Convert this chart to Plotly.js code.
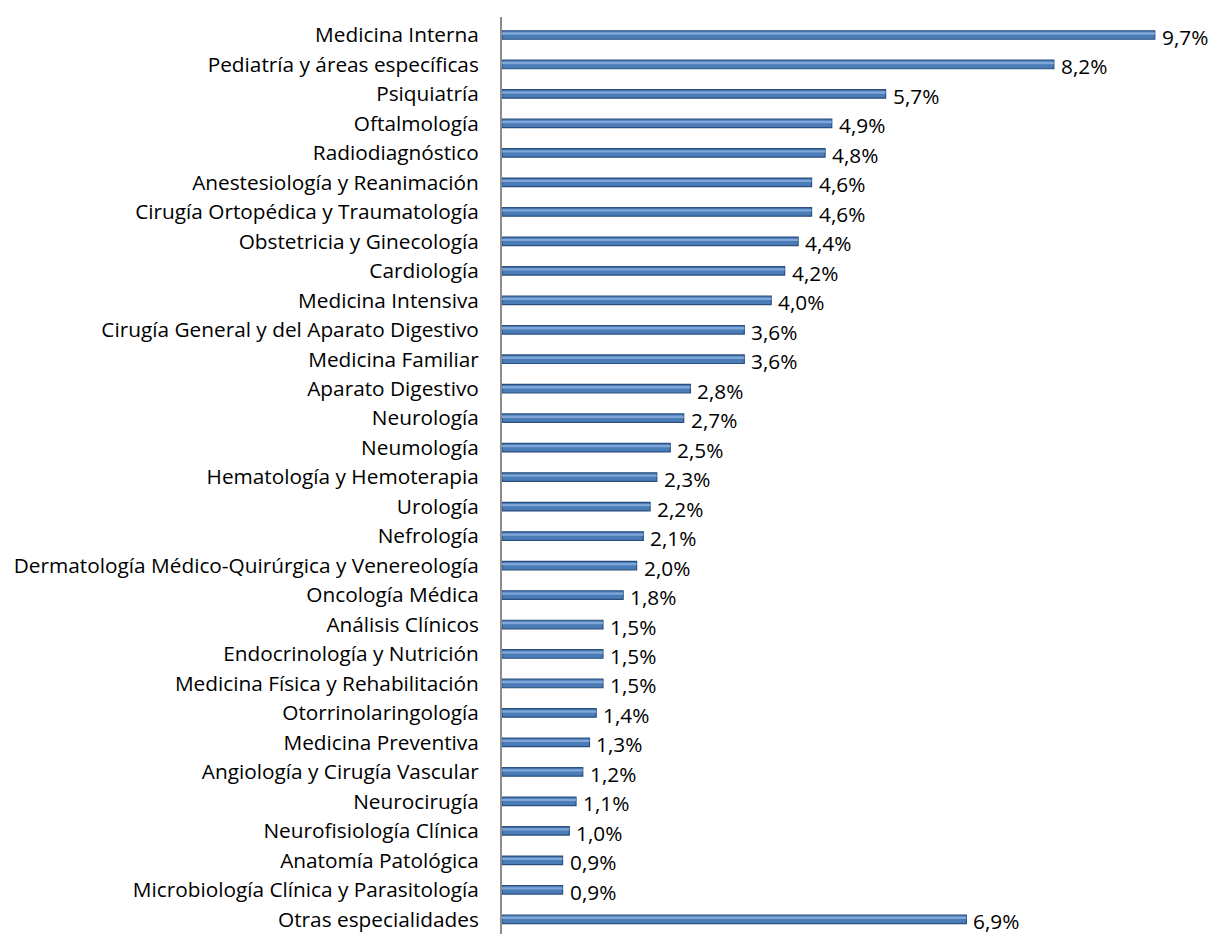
<!DOCTYPE html>
<html><head><meta charset="utf-8">
<script src="https://cdn.plot.ly/plotly-3.0.1.min.js"></script>
<style>html,body{margin:0;padding:0;background:#fff}#c{width:1211px;height:934px}</style>
</head><body><div id="c"></div>
<script>
const categories = ["Medicina Interna","Pediatría y áreas específicas","Psiquiatría","Oftalmología","Radiodiagnóstico","Anestesiología y Reanimación","Cirugía Ortopédica y Traumatología","Obstetricia y Ginecología","Cardiología","Medicina Intensiva","Cirugía General y del Aparato Digestivo","Medicina Familiar","Aparato Digestivo","Neurología","Neumología","Hematología y Hemoterapia","Urología","Nefrología","Dermatología Médico-Quirúrgica y Venereología","Oncología Médica","Análisis Clínicos","Endocrinología y Nutrición","Medicina Física y Rehabilitación","Otorrinolaringología","Medicina Preventiva","Angiología y Cirugía Vascular","Neurocirugía","Neurofisiología Clínica","Anatomía Patológica","Microbiología Clínica y Parasitología","Otras especialidades"];
const values = [9.7,8.2,5.7,4.9,4.8,4.6,4.6,4.4,4.2,4.0,3.6,3.6,2.8,2.7,2.5,2.3,2.2,2.1,2.0,1.8,1.5,1.5,1.5,1.4,1.3,1.2,1.1,1.0,0.9,0.9,6.9];
const labels = values.map(v => v.toFixed(1).replace('.', ',') + '%');

const font = {family: '"Open Sans", sans-serif', size: 20.8, color: '#000'};
const traces = [{
  type: 'bar', orientation: 'h',
  y: categories, x: values,
  width: 0.29,
  marker: {color: '#4a7cb8', line: {color: '#2a4f7e', width: 1.2}},
  hoverinfo: 'none'
}, {
  type: 'bar', orientation: 'h',
  y: categories, x: values,
  width: 0.08, offset: -0.09,
  marker: {color: '#7fa6d6', line: {width: 0}},
  hoverinfo: 'none'
}];
const annotations = categories.map((c, i) => ({
  x: values[i], y: c, xref: 'x', yref: 'y', text: labels[i],
  showarrow: false, xanchor: 'left', yanchor: 'middle', xshift: 5, yshift: -2,
  font: font
}));
Plotly.newPlot('c', traces, {
  width: 1211, height: 934,
  margin: {l: 502, r: 36, t: 17, b: 0},
  paper_bgcolor: '#fff', plot_bgcolor: '#fff',
  font: font,
  showlegend: false,
  barmode: 'overlay',
  annotations: annotations,
  xaxis: {range: [0, 10], showgrid: false, zeroline: false, showticklabels: false, showline: false, ticks: ''},
  yaxis: {autorange: 'reversed', showgrid: false, zeroline: false, showline: true, linecolor: '#8c8c8c', linewidth: 2,
          ticks: '', ticklen: 0, ticklabelstandoff: 17, tickfont: font, automargin: false}
}, {staticPlot: true});
</script></body></html>
